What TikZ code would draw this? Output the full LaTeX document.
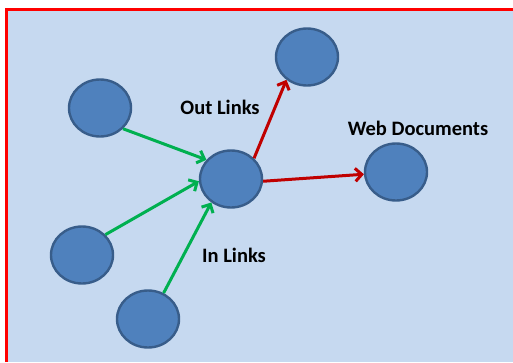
\documentclass[tikz,border=0pt]{standalone}
\usepackage{fontspec}
\setmainfont{Carlito}
\usetikzlibrary{arrows.meta,shapes.geometric}
\definecolor{pagebg}{HTML}{C6D9F0}
\definecolor{framered}{HTML}{FF0000}
\definecolor{docfill}{HTML}{4F81BD}
\definecolor{docline}{HTML}{385D8A}
\definecolor{inlink}{HTML}{00B050}
\definecolor{outlink}{HTML}{C00000}
\tikzset{
  doc/.style={ellipse, draw=docline, fill=docfill, line width=2.4pt,
    minimum width=62pt, minimum height=57pt, inner sep=0pt},
  lbl/.style={font=\fontsize{20.5}{24}\selectfont\bfseries, text=black, inner sep=0pt},
  link/.style={line width=3pt, -{Straight Barb[length=6.5pt,width=13pt,line width=3pt]}},
  inarrow/.style={link, draw=inlink},
  outarrow/.style={link, draw=outlink}
}
\begin{document}
\begin{tikzpicture}[x=1pt,y=-1pt]
  \useasboundingbox (0,0) rectangle (513,362);
  \fill[white] (0,0) rectangle (513,362);
  % panel with red frame on its top and left edges
  \fill[pagebg] (6.5,9.5) rectangle (513,362);
  \draw[framered, line width=2.8pt] (6.5,362) -- (6.5,9.5) -- (513,9.5);

  % web documents
  \node[doc] (a) at (100,108) {};
  \node[doc] (b) at (307,57) {};
  \node[doc] (c) at (231,179) {};
  \node[doc] (d) at (396,172) {};
  \node[doc] (e) at (82,255) {};
  \node[doc] (f) at (148,319) {};

  % labels
  \node[lbl] (outl) at (220,107) {Out Links};
  \node[lbl] (webd) at (418,128) {Web Documents};
  \node[lbl] (inl) at (234,255) {In Links};

  % in links
  \draw[inarrow] (a.-42) -- (c.142);
  \draw[inarrow] (e.41) -- (c.184);
  \draw[inarrow] (f.59) -- (c.230);
  % out links
  \draw[outarrow] (c.42) -- (b.228);
  \draw[outarrow] (c.-4) -- (d.184);
\end{tikzpicture}
\end{document}
